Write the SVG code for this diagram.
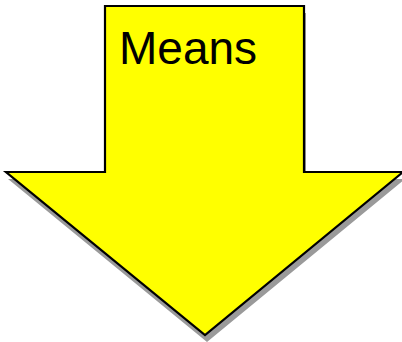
<svg xmlns="http://www.w3.org/2000/svg" width="402" height="342" viewBox="0 0 402 342">
<style>
.shadow{fill:#9a9a9a}
.arrow{fill:#ffff00;stroke:#000;stroke-width:2.2;stroke-linejoin:miter}
.label{font-family:"Liberation Sans",Arial,sans-serif;font-size:46px;fill:#000}
</style>
<rect width="402" height="342" fill="#fff"/>
<g id="arrow">
<polygon class="shadow" points="107,13 306,13 306,179 405,179 207,342 8,179 107,179"/>
<polygon class="arrow" points="105,6 304,6 304,172 403,172 205,335 6,172 105,172"/>
<text class="label" x="119" y="64">Means</text>
</g>
</svg>
